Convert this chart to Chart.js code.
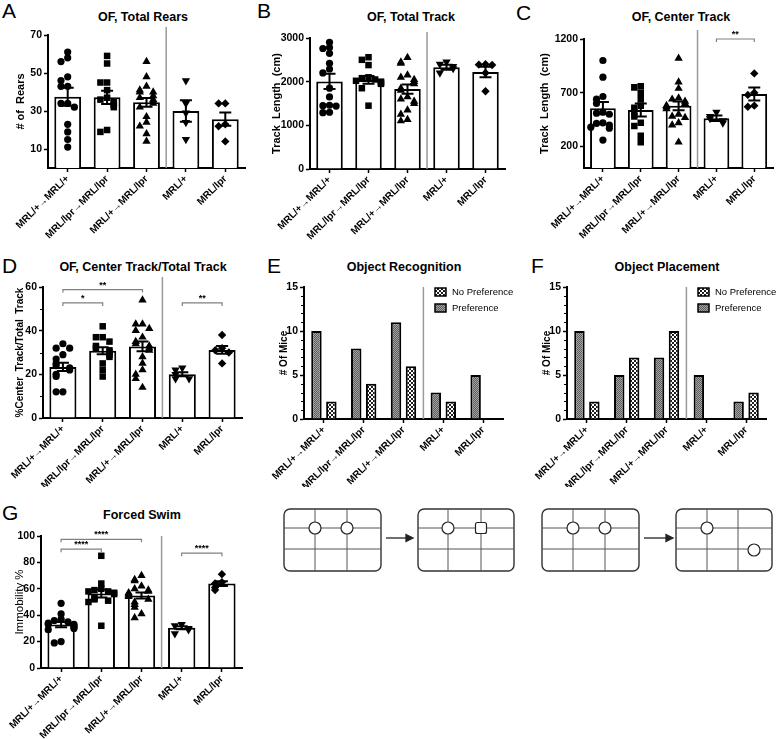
<!DOCTYPE html>
<html lang="en">
<head>
<meta charset="UTF-8">
<title>Behaviour of MRL/lpr bone marrow chimeras</title>
<script src="https://cdn.jsdelivr.net/npm/chart.js"></script>
<style>
  body { margin: 0; background: #fff; font-family: Arial, "Liberation Sans", sans-serif; }
  #page { position: relative; width: 778px; height: 739px; overflow: hidden; }
  #page canvas { position: absolute; }
  #page svg { position: absolute; left: 0; top: 0; }
  .letter { position: absolute; font-size: 21px; line-height: 1; color: #000; }
  .ttl { position: absolute; width: 240px; text-align: center; font-weight: bold; font-size: 12.5px; line-height: 1; color: #000; white-space: nowrap; }
</style>
</head>
<body>
<div id="page">
  <svg width="778" height="739">
    <g fill="none" stroke="#333" stroke-width="1.4">
      <rect x="284" y="509" width="97" height="62" rx="6"/>
      <rect x="418" y="509" width="96" height="62" rx="6"/>
      <rect x="542" y="509" width="97" height="62" rx="6"/>
      <rect x="676" y="509" width="96" height="62" rx="6"/>
    </g>
    <g fill="none" stroke="#555" stroke-width="1">
      <path d="M315 509V571M347 509V571M284 528H381M284 549H381"/>
      <path d="M448 509V571M481 509V571M418 528H514M418 549H514"/>
      <path d="M573 509V571M605 509V571M542 528H639M542 549H639"/>
      <path d="M707 509V571M738 509V571M676 528H772M676 549H772"/>
    </g>
    <g fill="#fff" stroke="#222" stroke-width="1.2">
      <circle cx="315" cy="528" r="6"/><circle cx="347" cy="528" r="6"/>
      <circle cx="448" cy="528" r="6"/><rect x="475.5" y="522.5" width="11" height="11" rx="2"/>
      <circle cx="573" cy="528" r="6"/><circle cx="605" cy="528" r="6"/>
      <circle cx="707" cy="528" r="6"/><circle cx="754" cy="550" r="6"/>
    </g>
    <g stroke="#222" stroke-width="1.3" fill="#222">
      <path d="M386 538H406"/><path d="M406 534.5L413 538L406 541.5Z"/>
      <path d="M644 538H666"/><path d="M666 534.5L673 538L666 541.5Z"/>
    </g>
  </svg>

  <div class="letter" style="left:2px;top:0px">A</div>
  <div class="letter" style="left:257px;top:0px">B</div>
  <div class="letter" style="left:516px;top:2px">C</div>
  <div class="letter" style="left:2px;top:255px">D</div>
  <div class="letter" style="left:267px;top:255px">E</div>
  <div class="letter" style="left:531px;top:255px">F</div>
  <div class="letter" style="left:2px;top:502px">G</div>

  <div class="ttl" style="left:23px;top:11px">OF, Total Rears</div>
  <div class="ttl" style="left:291px;top:11px">OF, Total Track</div>
  <div class="ttl" style="left:561px;top:11px">OF, Center Track</div>
  <div class="ttl" style="left:23px;top:261px">OF, Center Track/Total Track</div>
  <div class="ttl" style="left:284px;top:261px">Object Recognition</div>
  <div class="ttl" style="left:547px;top:261px">Object Placement</div>
  <div class="ttl" style="left:22px;top:509px">Forced Swim</div>

  <canvas id="rears" width="252" height="221" style="left:0;top:24px"></canvas>
  <canvas id="track" width="255" height="221" style="left:255px;top:24px"></canvas>
  <canvas id="center" width="266" height="221" style="left:512px;top:24px"></canvas>
  <canvas id="ratio" width="252" height="215" style="left:0;top:272px"></canvas>
  <canvas id="recog" width="265" height="215" style="left:255px;top:272px"></canvas>
  <canvas id="place" width="266" height="215" style="left:512px;top:272px"></canvas>
  <canvas id="swim" width="252" height="213" style="left:0;top:526px"></canvas>
</div>

<script>
const FONT = 'Arial, "Liberation Sans", sans-serif';
Chart.defaults.font.family = FONT;

const groups = ['MRL/+→MRL/+', 'MRL/lpr→MRL/lpr', 'MRL/+→MRL/lpr', 'MRL/+', 'MRL/lpr'];

// A: open field, total rears
const rearsMean = [37.5, 37.2, 34.6, 30, 25.7];
const rearsSem = [4.8, 3.5, 2.3, 5.6, 3.5];
const rearsPts = [
  [61, 58, 56, 48, 46, 43, 43, 34, 34, 32, 23, 19, 15, 11],
  [59, 55, 45, 45, 41, 37, 36, 35, 34, 33, 32, 20, 19],
  [56, 48, 43, 41, 40, 40, 38, 37, 36, 35, 34, 32, 27, 24, 22, 18, 14],
  [46, 34, 29, 24, 15],
  [34, 34, 23, 22, 14]
];
const rearsTicks = [10, 30, 50, 70];

// B: open field, total track (cm)
const trackMean = [2005, 2040, 1830, 2330, 2220];
const trackSem = [175, 90, 105, 55, 120];
const trackPts = [
  [2900, 2780, 2760, 2650, 2420, 2290, 2200, 1850, 1650, 1460, 1450, 1440, 1300, 1290],
  [2560, 2500, 2380, 2100, 2080, 2050, 2020, 2000, 1980, 1950, 1850, 1450],
  [2550, 2450, 2420, 2150, 2100, 2050, 2000, 1950, 1850, 1800, 1650, 1600, 1550, 1500, 1350, 1250, 1130, 1100],
  [2450, 2400, 2350, 2300, 2200],
  [2400, 2390, 2380, 2200, 1780]
];
const trackTicks = [0, 1000, 2000, 3000];

// C: open field, center track (cm)
const centerMean = [556, 540, 578, 463, 689];
const centerSem = [57, 60, 40, 25, 60];
const centerPts = [
  [1000, 845, 665, 640, 600, 520, 510, 500, 420, 415, 400, 380, 370, 260],
  [760, 750, 700, 640, 580, 560, 520, 480, 420, 390, 300, 240],
  [1020, 800, 740, 650, 640, 620, 600, 590, 580, 570, 550, 500, 480, 470, 420, 400, 240],
  [520, 480, 460, 440, 420],
  [880, 700, 680, 580, 570]
];
const centerTicks = [200, 700, 1200];
const centerSig = [[3, 4, 1200, '**']];

// D: center track / total track (%)
const ratioMean = [23.4, 30.8, 32.8, 20, 31.2];
const ratioSem = [1.9, 1.6, 2.2, 0.9, 1.8];
const ratioPts = [
  [34, 32, 32, 29, 27, 25, 24, 23, 22, 20, 19, 12, 12],
  [42, 37, 37, 35, 33, 32, 31, 30, 29, 28, 25, 22, 19],
  [54, 43, 43, 41, 40, 37, 35, 34, 33, 32, 31, 28, 25, 22, 20, 18, 14],
  [23, 22, 20, 18, 18],
  [38, 32, 31, 30, 25]
];
const ratioTicks = [0, 20, 40, 60];
const ratioSig = [[0, 1, 52.7, '*'], [0, 2, 58.8, '**'], [3, 4, 52.7, '**']];

// E, F: number of mice with / without preference
const recogPref = [10, 8, 11, 3, 5];
const recogNoPref = [2, 4, 6, 2, 0];
const placePref = [10, 5, 7, 5, 2];
const placeNoPref = [2, 7, 10, 0, 3];
const miceTicks = [0, 5, 10, 15];

// G: forced swim, immobility %
const swimMean = [32.9, 56.5, 54.9, 30.5, 64];
const swimSem = [2, 3, 2.3, 1.2, 1.8];
const swimPts = [
  [49, 41, 37, 36, 35, 34, 33, 33, 32, 31, 30, 29, 20, 19],
  [85, 64, 60, 59, 58, 58, 57, 56, 53, 52, 51, 50, 32],
  [70, 67, 66, 62, 60, 59, 58, 57, 56, 55, 54, 52, 50, 48, 46, 41, 38],
  [33, 32, 30, 29, 26],
  [71, 65, 64, 61, 59]
];
const swimTicks = [0, 20, 40, 60, 80, 100];
const swimSig = [[0, 1, 90, '****'], [0, 2, 97.5, '****'], [3, 4, 87, '****']];

const shapes = ['circle', 'rect', 'triangle', 'triangle', 'rectRot'];
const shapeRot = [0, 0, 0, 180, 0];
const shapeSize = [3.6, 4.6, 4.8, 4.8, 4.2];

// per-canvas extras read by the decor plugin
const extras = {};

// horizontal spread so points with close values don't sit on top of each other
function spread(values, tol) {
  const offs = [0, -0.17, 0.17, -0.32, 0.32, -0.09, 0.09, -0.25, 0.25];
  return values.map((v, i) => {
    let k = 0;
    for (let j = 0; j < i; j++) if (Math.abs(values[j] - v) < tol) k++;
    return offs[k % offs.length];
  });
}

function fill(kind) {
  const c = document.createElement('canvas');
  c.width = c.height = 4;
  const g = c.getContext('2d');
  if (kind === 'pref') {
    g.fillStyle = '#a4a4a4'; g.fillRect(0, 0, 4, 4);
    g.fillStyle = '#5c5c5c';
    g.fillRect(0, 0, 1, 1); g.fillRect(2, 0, 1, 1); g.fillRect(1, 1, 1, 1); g.fillRect(3, 1, 1, 1);
    g.fillRect(0, 2, 1, 1); g.fillRect(2, 2, 1, 1); g.fillRect(1, 3, 1, 1); g.fillRect(3, 3, 1, 1);
  } else {
    g.fillStyle = '#1e1e1e'; g.fillRect(0, 0, 4, 4);
    g.fillStyle = '#fff';
    g.fillRect(0, 0, 2, 2); g.fillRect(2, 2, 2, 2);
  }
  return g.createPattern(c, 'repeat');
}
const prefFill = fill('pref');
const noPrefFill = fill('nopref');

const decor = {
  id: 'decor',
  afterDatasetsDraw(chart) {
    const d = extras[chart.canvas.id];
    const ctx = chart.ctx, xs = chart.scales.x2, ys = chart.scales.y, area = chart.chartArea;
    ctx.save();

    // minor ticks on the value axis
    if (d.minor) {
      ctx.strokeStyle = '#000';
      ctx.lineWidth = 1;
      ctx.beginPath();
      for (let v = 0; v <= d.max; v += d.minor) {
        if (d.ticks.includes(v)) continue;
        const y = Math.round(ys.getPixelForValue(v)) + 0.5;
        ctx.moveTo(area.left - 3, y); ctx.lineTo(area.left, y);
      }
      ctx.stroke();
    }

    // divider between chimeras and donor strains
    const sx = xs.getPixelForValue(2.5);
    ctx.strokeStyle = '#9a9a9a';
    ctx.lineWidth = 1.5;
    ctx.beginPath();
    ctx.moveTo(sx, area.top - d.sepRise);
    ctx.lineTo(sx, area.bottom);
    ctx.stroke();

    if (d.sem) {
      ctx.strokeStyle = '#000';
      ctx.lineWidth = 2;
      d.mean.forEach((m, g) => {
        const x = xs.getPixelForValue(g);
        const y1 = ys.getPixelForValue(m + d.sem[g]);
        const y2 = ys.getPixelForValue(m - d.sem[g]);
        ctx.beginPath();
        ctx.moveTo(x, y1); ctx.lineTo(x, y2);
        ctx.moveTo(x - 6, y1); ctx.lineTo(x + 6, y1);
        ctx.moveTo(x - 6, y2); ctx.lineTo(x + 6, y2);
        ctx.stroke();
      });
    }

    if (d.sig) {
      d.sig.forEach(([a, b, v, txt]) => {
        const x1 = xs.getPixelForValue(a), x2 = xs.getPixelForValue(b);
        const y = ys.getPixelForValue(v);
        ctx.strokeStyle = '#808080';
        ctx.lineWidth = 1.2;
        ctx.beginPath();
        ctx.moveTo(x1, y + 3); ctx.lineTo(x1, y); ctx.lineTo(x2, y); ctx.lineTo(x2, y + 3);
        ctx.stroke();
        ctx.fillStyle = '#000';
        ctx.font = 'bold 9px ' + FONT;
        ctx.textAlign = 'center';
        ctx.textBaseline = 'alphabetic';
        ctx.fillText(txt, (x1 + x2) / 2, y - 2);
      });
    }

    if (d.legend) {
      chart.data.datasets.slice().reverse().forEach((s, i) => {
        const x = area.right - 68, y = area.top + 1 + i * 16;
        ctx.fillStyle = s.backgroundColor;
        ctx.fillRect(x, y, 11, 8);
        ctx.strokeStyle = '#000';
        ctx.lineWidth = 1.5;
        ctx.strokeRect(x, y, 11, 8);
        ctx.fillStyle = '#000';
        ctx.font = '9.5px ' + FONT;
        ctx.textAlign = 'left';
        ctx.textBaseline = 'middle';
        ctx.fillText(s.label, x + 17, y + 4.5);
      });
    }
    ctx.restore();
  }
};

function baseOptions(d) {
  return {
    responsive: false,
    animation: false,
    events: [],
    layout: { padding: { top: d.padTop, right: d.padRight, left: 0, bottom: 0 } },
    plugins: { legend: { display: false }, tooltip: { enabled: false } },
    scales: {
      x: {
        type: 'category',
        offset: true,
        grid: { drawOnChartArea: false, offset: false, tickLength: 4, tickColor: '#000', tickWidth: 1.5 },
        border: { color: '#000', width: 2 },
        ticks: {
          color: '#000', font: { size: 10, weight: 'bold' },
          autoSkip: false, minRotation: 45, maxRotation: 45, padding: 1
        },
        afterFit: s => { s.height = d.xh; s.paddingLeft = 0; s.paddingRight = 0; }
      },
      // hidden linear twin of x, used to place jittered points, error bars and brackets
      x2: { type: 'linear', display: false, offset: false, grid: { offset: false }, min: -0.5, max: 4.5 },
      y: {
        min: 0, max: d.max,
        afterBuildTicks: s => { s.ticks = d.ticks.map(v => ({ value: v })); },
        grid: { drawOnChartArea: false, tickLength: 4, tickColor: '#000', tickWidth: 1.5 },
        border: { color: '#000', width: 2 },
        ticks: { color: '#000', font: { size: 10.5, weight: 'bold' }, padding: 2, callback: v => String(v) },
        title: {
          display: true, text: d.yTitle, color: '#000',
          font: { size: d.yFont, weight: d.yWeight },
          padding: { top: d.titlePad, bottom: 0 }
        },
        afterFit: s => { s.width = d.yw; }
      }
    }
  };
}

function dotPanel(id, d) {
  extras[id] = d;
  const sets = [{
    type: 'bar', data: d.mean, order: 2, xAxisID: 'x', grouped: false,
    backgroundColor: '#fff', borderColor: '#000', borderWidth: 2,
    barPercentage: 0.68, categoryPercentage: 1
  }];
  d.points.forEach((vals, g) => {
    const offs = spread(vals, d.max * 0.035);
    sets.push({
      type: 'scatter', xAxisID: 'x2', order: 1,
      data: vals.map((v, i) => ({ x: g + offs[i], y: v })),
      pointStyle: shapes[g], pointRotation: shapeRot[g], pointRadius: shapeSize[g],
      backgroundColor: '#000', borderColor: '#000', borderWidth: 0
    });
  });
  new Chart(document.getElementById(id), {
    type: 'bar',
    data: { labels: groups, datasets: sets },
    options: baseOptions(d),
    plugins: [decor]
  });
}

function countPanel(id, d) {
  extras[id] = d;
  const bar = { xAxisID: 'x', borderColor: '#000', borderWidth: 2, barPercentage: 0.7, categoryPercentage: 0.75 };
  new Chart(document.getElementById(id), {
    type: 'bar',
    data: {
      labels: groups,
      datasets: [
        Object.assign({ label: 'Preference', data: d.pref, backgroundColor: prefFill }, bar),
        Object.assign({ label: 'No Preference', data: d.noPref, backgroundColor: noPrefFill }, bar)
      ]
    },
    options: baseOptions(d),
    plugins: [decor]
  });
}

dotPanel('rears', {
  mean: rearsMean, sem: rearsSem, points: rearsPts, ticks: rearsTicks, max: 70,
  yTitle: '# of  Rears', yFont: 11, yWeight: 'bold',
  padTop: 11, padRight: 7, xh: 77, yw: 48, titlePad: 14, sepRise: 8
});
dotPanel('track', {
  mean: trackMean, sem: trackSem, points: trackPts, ticks: trackTicks, max: 3000,
  yTitle: 'Track  Length  (cm)', yFont: 11, yWeight: 'bold',
  padTop: 14, padRight: 5, xh: 76, yw: 55, titlePad: 15.5, sepRise: 6
});
dotPanel('center', {
  mean: centerMean, sem: centerSem, points: centerPts, ticks: centerTicks, max: 1200, sig: centerSig,
  yTitle: 'Track  Length  (cm)', yFont: 11, yWeight: 'bold',
  padTop: 15, padRight: 2, xh: 77, yw: 72, titlePad: 26.5, sepRise: 9
});
dotPanel('ratio', {
  mean: ratioMean, sem: ratioSem, points: ratioPts, ticks: ratioTicks, max: 60, sig: ratioSig, minor: 10,
  yTitle: '%Center  Track/Total  Track', yFont: 10, yWeight: 'bold',
  padTop: 15, padRight: 10, xh: 69, yw: 43, titlePad: 14, sepRise: 10
});
countPanel('recog', {
  pref: recogPref, noPref: recogNoPref, ticks: miceTicks, max: 15, legend: true, minor: 1,
  yTitle: '# Of Mice', yFont: 10, yWeight: 'bold',
  padTop: 15, padRight: 17, xh: 68, yw: 49, titlePad: 23, sepRise: 0
});
countPanel('place', {
  pref: placePref, noPref: placeNoPref, ticks: miceTicks, max: 15, legend: true, minor: 1,
  yTitle: '# Of Mice', yFont: 10, yWeight: 'bold',
  padTop: 15, padRight: 12, xh: 68, yw: 55, titlePad: 29, sepRise: 0
});
dotPanel('swim', {
  mean: swimMean, sem: swimSem, points: swimPts, ticks: swimTicks, max: 100, sig: swimSig,
  yTitle: 'Immobility %', yFont: 11.5, yWeight: 'normal',
  padTop: 10, padRight: 10, xh: 71, yw: 41, titlePad: 13, sepRise: 0
});
</script>
</body>
</html>
